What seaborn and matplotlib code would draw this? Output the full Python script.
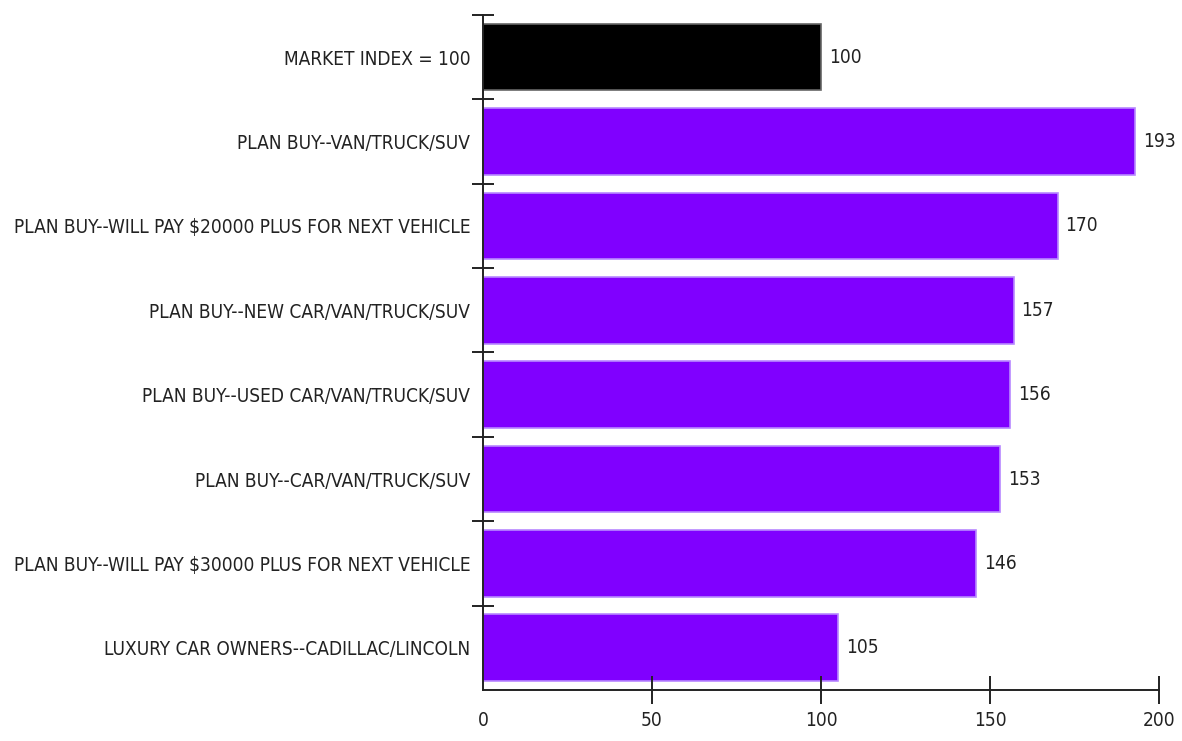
import matplotlib
matplotlib.use("Agg")
import matplotlib.pyplot as plt
from matplotlib import font_manager
from matplotlib.ticker import FixedLocator
import seaborn as sns
import pandas as pd

categories = [
    "MARKET INDEX = 100",
    "PLAN BUY--VAN/TRUCK/SUV",
    "PLAN BUY--WILL PAY $20000 PLUS FOR NEXT VEHICLE",
    "PLAN BUY--NEW CAR/VAN/TRUCK/SUV",
    "PLAN BUY--USED CAR/VAN/TRUCK/SUV",
    "PLAN BUY--CAR/VAN/TRUCK/SUV",
    "PLAN BUY--WILL PAY $30000 PLUS FOR NEXT VEHICLE",
    "LUXURY CAR OWNERS--CADILLAC/LINCOLN",
]
index_values = [100, 193, 170, 157, 156, 153, 146, 105]
bar_colors = ["#000000"] + ["#8000FF"] * 7
x_ticks = [0, 50, 100, 150, 200]

sns.set_theme(style="white")

# prefer a narrow sans face when one is installed
family = "Liberation Sans"
stretch = "normal"
for f in font_manager.fontManager.ttflist:
    if "Narrow" in f.name or "Condensed" in f.name:
        family = f.name
        break
    if f.stretch in ("condensed", "semi-condensed") and "Sans" in f.name:
        family, stretch = f.name, f.stretch
        break
plt.rcParams["font.family"] = [family, "DejaVu Sans"]
plt.rcParams["font.stretch"] = stretch

df = pd.DataFrame({"category": categories, "value": index_values})

fig = plt.figure(figsize=(11.82, 7.41), dpi=100)
ax = fig.add_axes([0.4086, 0.0688, 0.5719, 0.9110])

# size the text so the longest category label fits the left margin
renderer = fig.canvas.get_renderer()
probe = fig.text(0, 0, max(categories, key=len), fontsize=10)
probe_w = probe.get_window_extent(renderer).width
probe.remove()
fs = min(16.5, 10 * 458 / probe_w)

sns.barplot(data=df, x="value", y="category", hue="category",
            palette=bar_colors, legend=False, orient="h", width=0.79,
            saturation=1, ax=ax, edgecolor="#b888ff", linewidth=1.2)
ax.patches[0].set_edgecolor("#666666")

ax.set_xlim(0, 200)
ax.set_ylim(len(categories) - 0.5, -0.5)
ax.set_xlabel("")
ax.set_ylabel("")
ax.set_axisbelow(False)

for spine in ["top", "right"]:
    ax.spines[spine].set_visible(False)
for spine in ["left", "bottom"]:
    ax.spines[spine].set_color("#222222")
    ax.spines[spine].set_linewidth(1.4)

ax.set_xticks(x_ticks)
ax.set_xticklabels([str(t) for t in x_ticks], fontsize=fs, color="#222222")
ax.tick_params(axis="x", bottom=True, direction="inout", length=20, width=1.4,
               color="#222222", pad=5)
ax.xaxis.get_major_ticks()[0].tick1line.set_visible(False)

ax.tick_params(axis="y", which="major", left=True, length=0, pad=9,
               labelsize=fs, labelcolor="#222222")
ax.yaxis.set_minor_locator(FixedLocator([i - 0.5 for i in range(len(categories))]))
ax.tick_params(axis="y", which="minor", left=True, direction="inout",
               length=16, width=1.4, color="#222222")

for i, v in enumerate(index_values):
    ax.text(v + 2.3, i, str(v), va="center", ha="left", fontsize=fs,
            color="#222222")

fig.savefig("out.png", dpi=100)
